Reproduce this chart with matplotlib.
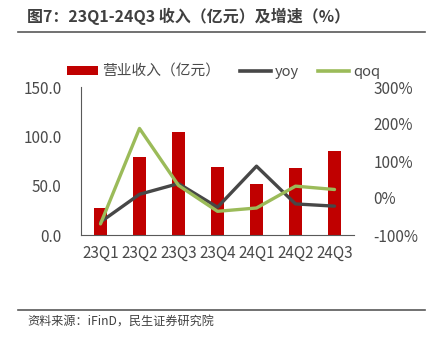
import numpy as np
import matplotlib
matplotlib.use('Agg')
import matplotlib.pyplot as plt
from matplotlib.lines import Line2D

plt.rcParams['font.family'] = ['Noto Sans CJK SC', 'DejaVu Sans']

# Data
quarters = ['23Q1', '23Q2', '23Q3', '23Q4', '24Q1', '24Q2', '24Q3']
revenue = [27.7, 78.7, 104.4, 69.4, 51.4, 67.6, 84.8]   # 亿元
yoy = [-65, 10, 39, -25, 86, -16, -22]                   # %
qoq = [-70, 188, 34, -36, -27, 32, 23]                   # %
yticks_l = [0, 50, 100, 150]
yticks_r = [-100, 0, 100, 200, 300]

RED = '#C00000'
DARK = '#474747'
GREEN = '#9BBB59'
TXT = '#4a4a4a'

fig = plt.figure(figsize=(4.32, 3.41), dpi=100, facecolor='w')
ax = fig.add_axes([81/432, 1-235/341, 273/432, 148/341])
ax2 = ax.twinx()

x = np.arange(len(quarters))
bars = ax.bar(x, revenue, width=0.33, color=RED, zorder=2)
l1, = ax2.plot(x, yoy, color=DARK, lw=2.4, solid_capstyle='round', zorder=3)
l2, = ax2.plot(x, qoq, color=GREEN, lw=2.4, solid_capstyle='round', zorder=3)

ax.set_xlim(-0.5, len(quarters)-0.5)
ax.set_ylim(0, 150)
ax2.set_ylim(-100, 300)
ax.set_xticks(x)
ax.set_xticklabels(quarters)
ax.set_yticks(yticks_l)
ax.set_yticklabels(['{:.1f}'.format(v) for v in yticks_l])
ax2.set_yticks(yticks_r)
ax2.set_yticklabels(['{}%'.format(v) for v in yticks_r])

for a in (ax, ax2):
    for s in ['top', 'right']:
        a.spines[s].set_visible(False)
    a.tick_params(length=0, labelsize=11, colors=TXT)
ax2.spines['left'].set_visible(False)
ax2.spines['bottom'].set_visible(False)
ax.spines['left'].set_color('#595959')
ax.spines['bottom'].set_color('#595959')
ax.tick_params(axis='y', pad=14)
ax.tick_params(axis='x', pad=7)
ax2.tick_params(axis='y', pad=14)
ax.set_zorder(ax2.get_zorder()-1)
ax.patch.set_visible(False)

handles = [bars, Line2D([], [], color=DARK, lw=2.6), Line2D([], [], color=GREEN, lw=2.6)]
labels = ['营业收入（亿元）', 'yoy', 'qoq']
fig.legend(handles, labels, loc='center', bbox_to_anchor=(0.518, 1-72/341), ncol=3,
           frameon=False, fontsize=10.6, handlelength=2.1, handleheight=0.6,
           handletextpad=0.25, columnspacing=1.35, labelcolor=TXT)

# title and frame lines
fig.text(27/432, 1-16/341, '图7：23Q1-24Q3 收入（亿元）及增速（%）', fontsize=11.5,
         fontweight='bold', color='#404040', va='center', ha='left')
fig.add_artist(Line2D([18/432, 425/432], [1-31.5/341, 1-31.5/341], color='#595959', lw=1.2))
fig.add_artist(Line2D([18/432, 425/432], [1-310/341, 1-310/341], color='#595959', lw=1.2))
fig.text(27/432, 1-322/341, '资料来源：iFinD，民生证券研究院', fontsize=8.7,
         color='#404040', va='center', ha='left')

plt.savefig('out.png', dpi=100, facecolor='w')
